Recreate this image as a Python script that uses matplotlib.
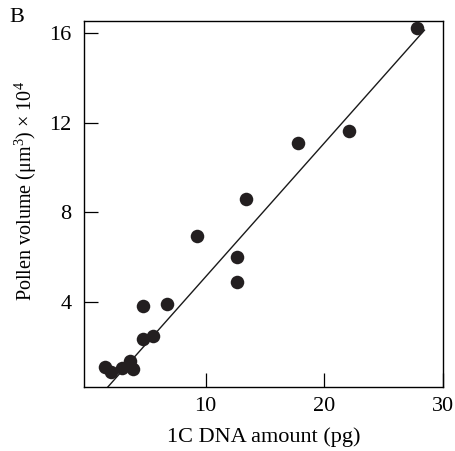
import matplotlib
matplotlib.use('Agg')
from matplotlib import pyplot as plt

# 1C DNA amount (pg) vs pollen volume (um^3 x 10^4)
dna_amount = [27.8, 22.06, 17.76, 13.43, 9.32, 12.69, 12.69, 6.78, 4.76,
              5.55, 4.76, 3.63, 3.9, 2.93, 1.52, 2.0]
pollen_volume = [16.25, 11.65, 11.08, 8.58, 6.94, 6.01, 4.90, 3.93, 3.81,
                 2.47, 2.33, 1.34, 1.0, 1.07, 1.1, 0.87]

# regression line drawn in the figure
fit_x = [1.74, 28.46]
slope = 0.597
intercept = -0.85
fit_y = [slope * x + intercept for x in fit_x]

x_ticks = [10, 20, 30]
y_ticks = [4, 8, 12, 16]

plt.rcParams['font.family'] = 'Liberation Serif'
plt.rcParams['mathtext.fontset'] = 'custom'
plt.rcParams['mathtext.rm'] = 'Liberation Serif'
plt.rcParams['mathtext.it'] = 'Liberation Serif:italic'

fig = plt.figure(figsize=(4.55, 4.51), dpi=100)
ax = fig.add_axes([0.1846, 0.1419, 0.7884, 0.8115])

ax.plot(fit_x, fit_y, color='#1a1a1a', lw=1.0, zorder=2)
ax.scatter(dna_amount, pollen_volume, s=95, color='#231f20', zorder=3, linewidths=0)

ax.set_xlim(-0.25, 30)
ax.set_ylim(0.2, 16.55)
ax.set_xticks(x_ticks)
ax.set_yticks(y_ticks)
ax.tick_params(direction='in', length=10, width=0.9, labelsize=16)
ax.tick_params(axis='y', pad=9)
ax.tick_params(axis='x', pad=7)
for sp in ax.spines.values():
    sp.set_linewidth(1.0)

ax.set_xlabel('1C DNA amount (pg)', fontsize=16, labelpad=8)
ax.set_ylabel('Pollen volume (μm$^3$) × 10$^4$', fontsize=14.5)
ax.yaxis.set_label_coords(-0.125, 0.535)

fig.text(0.037, 0.962, 'B', fontsize=16, ha='center', va='center')

fig.savefig('out.png', dpi=100)
